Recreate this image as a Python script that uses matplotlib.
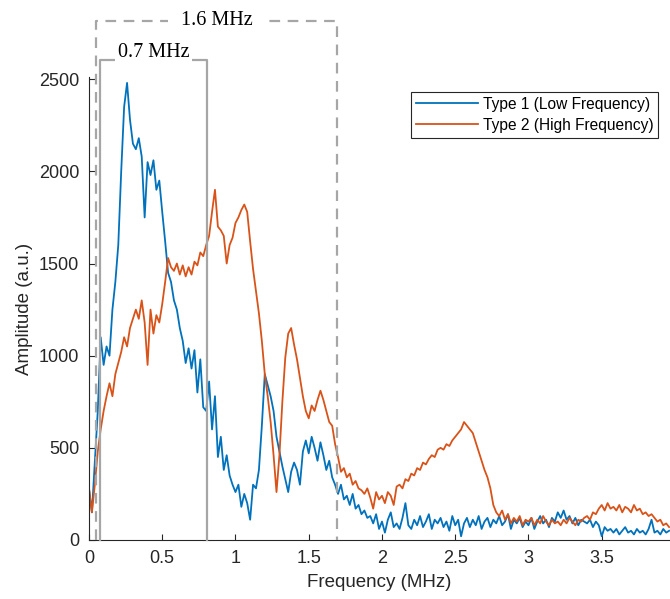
import numpy as np
import matplotlib
matplotlib.use("Agg")
import matplotlib.pyplot as plt

# frequency grid (MHz), one sample every 0.02 MHz
freq = np.round(np.arange(0, 3.97, 0.02), 2)

# Type 1 (low frequency) amplitude
type1 = [
    280, 150, 420, 700, 1100, 950, 1050, 1000, 1250, 1400,
    1600, 2000, 2350, 2480, 2280, 2150, 2120, 2180, 2080, 1750,
    2050, 1980, 2060, 1900, 1950, 1780, 1620, 1450, 1400, 1300,
    1250, 1150, 1080, 960, 1040, 930, 1030, 800, 980, 720,
    700, 860, 600, 780, 450, 560, 380, 460, 350, 300,
    260, 300, 180, 250, 200, 110, 300, 280, 380, 620,
    900, 840, 780, 700, 560, 480, 400, 330, 260, 370,
    420, 380, 300, 480, 540, 470, 560, 500, 430, 530,
    460, 380, 430, 340, 300, 250, 300, 220, 240, 190,
    250, 170, 190, 140, 160, 120, 130, 90, 140, 60,
    100, 40, 110, 150, 70, 90, 60, 120, 200, 80,
    60, 110, 80, 130, 70, 100, 140, 60, 110, 90,
    120, 70, 100, 50, 130, 80, 110, 20, 90, 120,
    70, 110, 80, 130, 60, 100, 120, 70, 110, 90,
    130, 80, 100, 140, 60, 110, 90, 120, 70, 100,
    80, 120, 60, 100, 130, 90, 110, 70, 120, 100,
    150, 120, 160, 110, 130, 90, 120, 80, 110, 100,
    90, 110, 70, 100, 80, 20, 70, 50, 60, 40,
    60, 30, 50, 70, 40, 50, 30, 60, 40, 50,
    30, 60, 110, 40, 50, 30, 60, 40, 50,
]

# Type 2 (high frequency) amplitude
type2 = [
    280, 150, 300, 480, 600, 700, 780, 850, 780, 900,
    960, 1020, 1100, 1050, 1150, 1200, 1250, 1200, 1300, 1180,
    950, 1250, 1120, 1220, 1180, 1280, 1400, 1530, 1480, 1460,
    1500, 1440, 1490, 1430, 1480, 1440, 1510, 1490, 1560, 1540,
    1600, 1650, 1780, 1900, 1700, 1680, 1650, 1500, 1600, 1640,
    1720, 1750, 1790, 1820, 1780, 1620, 1470, 1350, 1230, 1080,
    900, 780, 640, 460, 260, 460, 750, 990, 1120, 1150,
    1060, 980, 880, 780, 700, 660, 730, 700, 760, 810,
    760, 700, 640, 620, 520, 450, 370, 390, 340, 360,
    300, 320, 280, 270, 250, 280, 230, 170, 260, 220,
    240, 200, 260, 240, 190, 290, 300, 280, 330, 320,
    360, 350, 390, 380, 420, 410, 440, 460, 450, 490,
    500, 490, 520, 510, 540, 560, 580, 600, 640, 620,
    600, 580, 530, 480, 430, 380, 340, 280, 190, 150,
    130, 160, 110, 140, 90, 120, 100, 130, 80, 110,
    100, 120, 80, 110, 90, 130, 100, 80, 110, 90,
    100, 80, 110, 90, 120, 100, 80, 110, 100, 120,
    130, 110, 150, 140, 170, 190, 160, 200, 170, 180,
    160, 190, 150, 180, 170, 150, 190, 160, 170, 140,
    150, 130, 140, 120, 100, 110, 80, 90, 70,
]

xticks = [0, 0.5, 1, 1.5, 2, 2.5, 3, 3.5]
xtick_labels = ["0", "0.5", "1", "1.5", "2", "2.5", "3", "3.5"]
yticks = [0, 500, 1000, 1500, 2000, 2500]

# bandwidth brackets: (left, right, top, label)
band_narrow = (0.075, 0.805, 2603, "0.7 MHz")
band_wide = (0.048, 1.694, 2815, "1.6 MHz")

plt.rcParams["font.family"] = ["Liberation Sans", "DejaVu Sans"]

fig = plt.figure(figsize=(6.7, 5.99), dpi=100)
ax = fig.add_axes([0.1328, 0.0985, 0.8672, 0.7730])

ax.plot(freq, type1, color="#0072BD", linewidth=1.3, label="Type 1 (Low Frequency)")
ax.plot(freq, type2, color="#D95319", linewidth=1.3, label="Type 2 (High Frequency)")

# brackets marking the bandwidths
gray = "#A6A6A6"
l, r, top, txt = band_narrow
ax.plot([l, l, r, r], [0, top, top, 0], color=gray, linewidth=1.6, clip_on=False, zorder=3)
ax.text((l + r) / 2, top + 40, txt, ha="center", va="center", fontsize=14.5,
        family=["Liberation Serif"], zorder=4,
        bbox=dict(facecolor="white", edgecolor="none", pad=2))
l, r, top, txt = band_wide
ax.plot([l, l, r, r], [0, top, top, 0], color=gray, linewidth=1.6,
        linestyle=(0, (4.8, 3.4)), clip_on=False, zorder=3)
ax.text((l + r) / 2, top + 5, txt, ha="center", va="center", fontsize=14.5,
        family=["Liberation Serif"], zorder=4,
        bbox=dict(facecolor="white", edgecolor="none", pad=9))

ax.set_xlim(0, 3.966)
ax.set_ylim(0, 2512)
ax.set_xticks(xticks)
ax.set_xticklabels(xtick_labels)
ax.set_yticks(yticks)
ax.tick_params(direction="in", length=4, width=0.8, colors="#262626",
               labelsize=13, pad=7)
ax.spines["top"].set_visible(False)
ax.spines["right"].set_visible(False)
ax.spines["left"].set_color("#262626")
ax.spines["bottom"].set_color("#262626")
ax.set_xlabel("Frequency (MHz)", fontsize=13.5, color="#262626", labelpad=5)
ax.set_ylabel("Amplitude (a.u.)", fontsize=13.5, color="#262626", labelpad=4)

leg = ax.legend(loc="upper left", bbox_to_anchor=(411 / 670, 1 - 92 / 599),
                bbox_transform=fig.transFigure, borderaxespad=0, fontsize=11.2,
                handlelength=4.0, handletextpad=0.3, fancybox=False,
                framealpha=1, borderpad=0.3, labelspacing=0.4)
leg.get_frame().set_edgecolor("#262626")
leg.get_frame().set_linewidth(0.8)

fig.savefig("out.png", dpi=100)
